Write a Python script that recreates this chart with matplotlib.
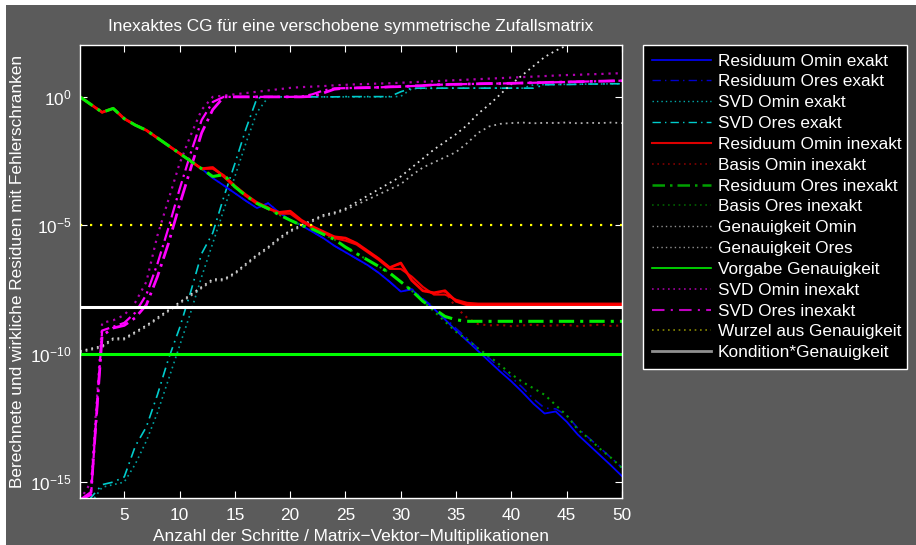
import numpy as np
import matplotlib
matplotlib.use("Agg")
import matplotlib.pyplot as plt
from matplotlib.patches import Rectangle
from matplotlib.lines import Line2D

plt.rcParams['font.family'] = ['Liberation Sans', 'DejaVu Sans']
plt.rcParams['mathtext.fontset'] = 'custom'
plt.rcParams['mathtext.rm'] = 'Liberation Sans'
plt.rcParams['mathtext.it'] = 'Liberation Sans'

# ---------------- data (log10 of values) ----------------
steps = list(range(1, 51))

common = [0, -0.3, -0.6, -0.45, -0.85, -1.1, -1.3, -1.6, -1.9, -2.2, -2.5, -2.8]

res_omin_exakt = common + [-3.16, -3.45, -3.75, -4.05, -4.33, -4.14, -4.5, -4.79, -5.0, -5.25,
                           -5.5, -5.8, -6.05, -6.3, -6.55, -6.85, -7.2, -7.58, -7.5, -7.9,
                           -8.25, -8.67, -9.1, -9.5, -9.9, -10.3, -10.7, -11.08, -11.5, -11.95,
                           -12.33, -12.25, -12.65, -13.15, -13.55, -13.95, -14.35, -14.77]
res_ores_exakt = common + [-3.16, -3.45, -3.75, -4.05, -4.33, -4.14, -4.5, -4.79, -5.0, -5.25,
                           -5.5, -5.8, -6.05, -6.3, -6.55, -6.85, -7.2, -7.58, -7.48, -7.86,
                           -8.2, -8.6, -9.02, -9.4, -9.8, -10.18, -10.56, -10.92, -11.32, -11.76,
                           -12.12, -12.15, -12.4, -12.9, -13.28, -13.66, -14.05, -14.44]

svd_omin_exakt = [-16.5, -15.8, -15.2, -15.1, -15.0, -14.3, -13.4, -12.3, -11.0, -9.7,
                  -8.4, -7.0, -5.7, -4.4, -3.1, -1.8, -0.6, -0.02, 0, 0,
                  0, 0, 0, 0, 0, 0, 0, 0, 0, 0.02,
                  0.32, 0.33, 0.33, 0.34, 0.34, 0.34, 0.34, 0.34, 0.34, 0.34,
                  0.34, 0.47, 0.48, 0.48, 0.49, 0.49, 0.5, 0.5, 0.51, 0.51]
svd_ores_exakt = [-16.5, -15.6, -15.1, -15.0, -14.8, -13.6, -12.85, -11.6, -10.2, -9.0,
                  -7.6, -6.1, -5.3, -3.9, -2.6, -1.25, -0.05, 0, 0, 0,
                  0, 0, 0, 0, 0.01, 0.01, 0.01, 0.01, 0.01, 0.2,
                  0.34, 0.34, 0.34, 0.34, 0.34, 0.34, 0.34, 0.34, 0.34, 0.34,
                  0.34, 0.34, 0.47, 0.48, 0.48, 0.49, 0.5, 0.5, 0.51, 0.51]

res_omin_inexakt = common + [-2.75, -3.1, -3.5, -3.85, -4.15, -4.35, -4.5, -4.45, -4.8, -5.05,
                             -5.25, -5.45, -5.5, -5.7, -6.0, -6.3, -6.65, -6.47, -7.15, -7.55,
                             -7.63, -7.55, -7.96, -8.1, -8.12, -8.12, -8.12, -8.12, -8.12, -8.12,
                             -8.12, -8.12, -8.12, -8.12, -8.12, -8.12, -8.12, -8.12]
res_omin_inexakt_2 = common + [-2.8, -3.05, -3.45, -3.8, -4.1, -4.3, -4.55, -4.55, -4.85, -5.1,
                               -5.3, -5.5, -5.6, -5.75, -6.05, -6.35, -6.7, -6.7, -7.0, -7.4,
                               -7.7, -7.7, -7.9, -8.02, -8.05, -8.05, -8.05, -8.05, -8.05, -8.05,
                               -8.05, -8.05, -8.05, -8.05, -8.05, -8.05, -8.05, -8.05]
basis_omin_inexakt = common + [-2.75, -3.1, -3.5, -3.85, -4.15, -4.35, -4.5, -4.45, -4.8, -5.05,
                               -5.25, -5.45, -5.5, -5.7, -6.0, -6.3, -6.65, -6.5, -7.15, -7.55,
                               -7.65, -7.6, -8.2, -8.6, -8.85, -8.9, -8.88, -8.93, -8.9, -8.87,
                               -8.92, -8.9, -8.88, -8.93, -8.9, -8.87, -8.92, -8.9]
res_ores_inexakt = common + [-3.1, -3.03, -3.5, -3.85, -4.15, -4.35, -4.59, -4.8, -5.0, -5.15,
                             -5.35, -5.55, -5.85, -6.1, -6.35, -6.6, -6.86, -7.2, -7.55, -7.96,
                             -8.25, -8.55, -8.68, -8.74, -8.74, -8.74, -8.74, -8.74, -8.74, -8.74,
                             -8.74, -8.74, -8.74, -8.74, -8.74, -8.74, -8.74, -8.74]
basis_ores_inexakt = common + [-3.1, -3.03, -3.5, -3.85, -4.15, -4.35, -4.59, -4.8, -5.0, -5.15,
                               -5.35, -5.55, -5.85, -6.1, -6.35, -6.6, -6.86, -7.2, -7.55, -7.96,
                               -8.35, -8.75, -9.15, -9.45, -9.8, -10.1, -10.45, -10.8, -11.1, -11.35,
                               -11.6, -12.0, -12.4, -12.95, -13.3, -13.7, -14.05, -14.45]

gen_omin = [-9.9, -9.8, -9.7, -9.4, -9.4, -9.15, -8.9, -8.6, -8.3, -8.0,
            -7.7, -7.4, -7.1, -7.1, -6.85, -6.5, -6.15, -5.85, -5.5, -5.2,
            -5.0, -4.8, -4.6, -4.5, -4.35, -4.1, -3.85, -3.6, -3.35, -3.1,
            -2.75, -2.4, -2.05, -1.75, -1.45, -1.1, -0.65, -0.3, 0.1, 0.5,
            0.85, 1.2, 1.55, 1.8, 2.0, 2.3, 2.6, 2.9, 3.2, 3.5]
gen_ores = [-9.95, -9.85, -9.75, -9.45, -9.45, -9.2, -8.95, -8.65, -8.35, -8.05,
            -7.75, -7.45, -7.15, -7.15, -6.9, -6.55, -6.2, -5.9, -5.55, -5.25,
            -5.05, -4.85, -4.65, -4.55, -4.4, -4.2, -4.0, -3.8, -3.6, -3.4,
            -3.05, -2.75, -2.55, -2.35, -2.15, -1.8, -1.4, -1.15, -1.05, -1.02,
            -1.0, -1.03, -1.01, -1.02, -1.0, -1.03, -1.01, -1.02, -1.0, -1.02]

vorgabe = -10.0
kondition_gen = -8.17
wurzel_gen = -5.0

svd_omin_inexakt = [-15.7, -15.0, -8.8, -8.7, -8.5, -8.0, -7.2, -5.4, -4.0, -2.6,
                    -1.5, -0.5, 0, 0.05, 0.1, 0.15, 0.2, 0.25, 0.3, 0.35,
                    0.38, 0.4, 0.42, 0.45, 0.47, 0.49, 0.5, 0.52, 0.53, 0.55,
                    0.57, 0.59, 0.61, 0.63, 0.65, 0.67, 0.69, 0.71, 0.73, 0.75,
                    0.77, 0.79, 0.81, 0.83, 0.85, 0.86, 0.88, 0.89, 0.91, 0.92]
svd_ores_inexakt = [-15.7, -15.4, -9.3, -9.0, -8.9, -8.6, -8.1, -7.0, -5.7, -4.2,
                    -2.8, -1.4, -0.5, 0, 0, 0, 0, 0, 0, 0,
                    0, 0.02, 0.15, 0.3, 0.34, 0.35, 0.36, 0.37, 0.39, 0.4,
                    0.42, 0.44, 0.47, 0.48, 0.49, 0.5, 0.51, 0.52, 0.52, 0.53,
                    0.54, 0.55, 0.56, 0.57, 0.58, 0.59, 0.6, 0.61, 0.62, 0.63]
svd_ores_inexakt_2 = [-15.7, -15.5, -9.1, -8.95, -8.8, -8.4, -7.7, -6.5, -5.1, -3.6,
                      -2.2, -0.9, -0.2, 0, 0, 0, 0, 0, 0, 0,
                      0.01, 0.1, 0.25, 0.33, 0.34, 0.35, 0.36, 0.37, 0.39, 0.4,
                      0.42, 0.44, 0.47, 0.48, 0.49, 0.5, 0.51, 0.52, 0.52, 0.53,
                      0.54, 0.55, 0.56, 0.57, 0.58, 0.59, 0.6, 0.61, 0.62, 0.63]

legend_labels = ["Residuum Omin exakt", "Residuum Ores exakt", "SVD Omin exakt", "SVD Ores exakt",
                 "Residuum Omin inexakt", "Basis Omin inexakt", "Residuum Ores inexakt",
                 "Basis Ores inexakt", "Genauigkeit Omin", "Genauigkeit Ores",
                 "Vorgabe Genauigkeit", "SVD Omin inexakt", "SVD Ores inexakt",
                 "Wurzel aus Genauigkeit", "Kondition*Genauigkeit"]

xticks = [5, 10, 15, 20, 25, 30, 35, 40, 45, 50]
yticks_exp = [-15, -10, -5, 0]

# ---------------- figure ----------------
W, H = 916, 545
GRAY = '#5b5b5b'
fig = plt.figure(figsize=(W / 100, H / 100), dpi=100, facecolor='white')
fig.patches.append(Rectangle((6 / W, 0), 1, 1 - 5 / H, transform=fig.transFigure,
                             facecolor=GRAY, edgecolor='none', zorder=-10))

ax = fig.add_axes([80 / W, 1 - 498 / H, 542 / W, 453 / H])
ax.set_facecolor('black')

x = np.array(steps)
def p(vals):
    return 10.0 ** np.asarray(vals, dtype=float)

dotted = (0, (1.0, 2.2))
dashdot = (0, (6, 3, 1, 3))

ax.plot(x, p(svd_omin_exakt), color='#00a0a0', ls=dotted, lw=1.2)
ax.plot(x, p(svd_ores_exakt), color='#00cccc', ls=dashdot, lw=1.2)
ax.plot(x, p(gen_omin), color='#e0e0e0', ls=dotted, lw=1.3)
ax.plot(x, p(gen_ores), color='#b0b0b0', ls=dotted, lw=1.3)
ax.plot(x, p(svd_omin_inexakt), color='#b000b0', ls=dotted, lw=1.6)
ax.plot(x, p(svd_ores_inexakt_2), color='#ff00ff', ls=(0, (6, 2, 1, 2)), lw=1.6)
ax.plot(x, p(svd_ores_inexakt), color='#ff00ff', ls=(0, (6, 2, 1, 2)), lw=2.0)
ax.plot(x, p(res_ores_exakt), color='#0000cc', ls=dashdot, lw=1.2)
ax.plot(x, p(res_omin_exakt), color='#0000ff', ls='-', lw=1.3)
ax.plot(x, p(basis_ores_inexakt), color='#00a000', ls=dotted, lw=1.5)
ax.plot(x, p(basis_omin_inexakt), color='#a00000', ls=dotted, lw=1.5)
ax.plot(x, p(res_omin_inexakt_2), color='#ee0000', ls='-', lw=1.5)
ax.plot(x, p(res_omin_inexakt), color='#ff0000', ls='-', lw=2.0)
ax.plot(x, p(res_ores_inexakt), color='#00ee00', ls=(0, (5, 2, 1, 2)), lw=2.2)
ax.axhline(10.0 ** wurzel_gen, color='#ffff00', ls=(0, (1.0, 3.5)), lw=1.6)
ax.axhline(10.0 ** vorgabe, color='#00ff00', ls='-', lw=2.2)
ax.axhline(10.0 ** kondition_gen, color='white', ls='-', lw=2.2)

ax.set_yscale('log')
ax.set_xlim(1, 50)
ax.set_ylim(10 ** -15.62, 10 ** 2.02)
ax.set_xticks(xticks)
ax.set_xticklabels([str(t) for t in xticks])
ax.set_yticks([10.0 ** e for e in yticks_exp])
ax.set_yticklabels([r'$\mathregular{10^{%d}}$' % e for e in yticks_exp])
ax.yaxis.set_minor_locator(matplotlib.ticker.NullLocator())
ax.tick_params(which='both', direction='in', top=True, right=True, color='white',
               labelcolor='white', length=5, width=0.8, labelsize=12.4)
ax.tick_params(axis='x', pad=7)
ax.tick_params(axis='y', pad=6)
for s in ax.spines.values():
    s.set_color('white')
    s.set_linewidth(1.0)

fig.text(351 / W, 1 - 26 / H, "Inexaktes CG für eine verschobene symmetrische Zufallsmatrix",
         color='white', fontsize=12.4, ha='center', va='center')
fig.text(351 / W, 1 - 536 / H, "Anzahl der Schritte / Matrix\u2212Vektor\u2212Multiplikationen",
         color='white', fontsize=12.4, ha='center', va='center')
fig.text(18 / W, 1 - 271 / H, "Berechnete und wirkliche Residuen mit Fehlerschranken",
         color='white', fontsize=12.4, ha='center', va='center', rotation=90)

# legend proxies
styles = [('#0000ff', '-', 1.2), ('#0000cc', dashdot, 1.0),
          ('#00aaaa', dotted, 1.0), ('#00cccc', dashdot, 1.0),
          ('#dd0000', '-', 1.5), ('#800000', dotted, 1.2),
          ('#00a000', (0, (5, 2, 1, 2)), 1.8), ('#006000', dotted, 1.2),
          ('#909090', dotted, 1.0), ('#909090', dotted, 1.0),
          ('#00ee00', '-', 1.2), ('#a000a0', dotted, 1.2),
          ('#c000c0', dashdot, 1.5), ('#888800', dotted, 1.2),
          ('#909090', '-', 2.0)]
handles = [Line2D([], [], color=c, ls=l, lw=w) for c, l, w in styles]
leg = fig.legend(handles, legend_labels, loc='upper left',
                 bbox_to_anchor=(643 / W, 1 - 45 / H, 264 / W, 0), mode='expand',
                 fontsize=12.4, frameon=True, fancybox=False, borderaxespad=0,
                 handlelength=3.45, handletextpad=0.38, labelspacing=0.335, borderpad=0.5)
leg.get_frame().set_facecolor('black')
leg.get_frame().set_edgecolor('white')
leg.get_frame().set_linewidth(1.0)
leg.get_frame().set_alpha(1)
for t in leg.get_texts():
    t.set_color('white')

fig.savefig('out.png', dpi=100, facecolor=fig.get_facecolor())
